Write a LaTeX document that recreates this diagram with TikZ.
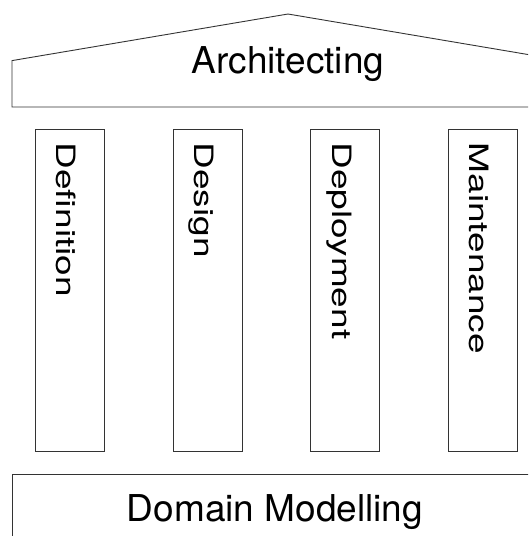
\documentclass[tikz,border=0pt]{standalone}
\usepackage{fontspec}
\setmainfont{TeX Gyre Heros}
\usepackage{graphicx}

\tikzset{
  frame/.style={draw=black!80, line width=0.9pt},
  pillarlabel/.style={anchor=base west, rotate=-90, inner sep=0pt},
  banner/.style={anchor=base, inner sep=0pt},
}
\newcommand{\bigtext}{\fontsize{37}{44}\selectfont}

\begin{document}
\begin{tikzpicture}[x=1pt, y=-1pt]
    \useasboundingbox (0,0) rectangle (528,536);
    \clip (0,0) rectangle (528,536);

    % --- 1. THE ROOF ---
    \draw[frame] (12,107) -- (12,60.6) -- (288,14) -- (564,60.6) -- (564,107) -- cycle;
    \node[banner] (roof) at (288,73.3) {\bigtext Architecting};

    % --- 2. THE PILLARS ---
    % left edge / name / label, each pillar 69 wide
    \foreach \x/\name/\txt in {35/def/Definition, 173/des/Design, 310.5/dep/Deployment, 448/mnt/Maintenance} {
        \draw[frame] (\x,129) rectangle ++(69,322);
        \node[pillarlabel] (\name) at (\x+21.5,142.5) {\scalebox{1}[0.72]{\bigtext \txt}};
    }

    % --- 3. THE BASE ---
    \draw[frame] (12.5,474) rectangle (538,560);
    \node[banner] (base) at (275,521.7) {\bigtext Domain Modelling};

\end{tikzpicture}
\end{document}
